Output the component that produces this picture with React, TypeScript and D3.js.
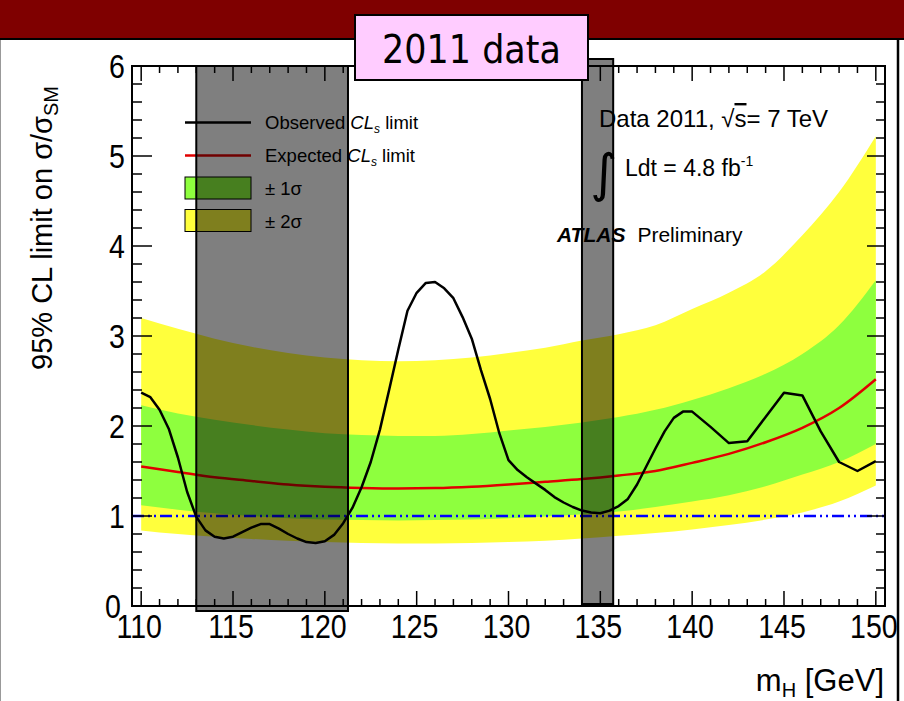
import React from "react";
import * as d3 from "d3";

// ---------- data ----------
const bandMass = [110,112,114,116,118,120,122,124,126,128,130,132,134,136,138,140,142,144,146,148,150];
const expectedLimit = [1.55,1.49,1.43,1.39,1.35,1.325,1.312,1.306,1.31,1.325,1.35,1.38,1.41,1.45,1.50,1.59,1.69,1.82,1.98,2.20,2.52];
const sigma1Hi = [2.23,2.14,2.07,2.01,1.96,1.92,1.90,1.89,1.89,1.91,1.95,1.99,2.04,2.10,2.18,2.29,2.42,2.58,2.80,3.12,3.62];
const sigma1Lo = [1.12,1.07,1.03,1.00,0.975,0.96,0.955,0.95,0.955,0.96,0.975,0.995,1.02,1.05,1.10,1.16,1.23,1.33,1.46,1.60,1.80];
const sigma2Hi = [3.20,3.08,2.97,2.88,2.81,2.76,2.73,2.72,2.73,2.76,2.81,2.87,2.95,3.02,3.12,3.30,3.48,3.72,4.12,4.60,5.22];
const sigma2Lo = [0.84,0.80,0.77,0.745,0.725,0.71,0.70,0.695,0.695,0.70,0.71,0.725,0.75,0.78,0.81,0.85,0.90,0.96,1.04,1.16,1.34];

const obsMass = [110,110.5,111,111.5,112,112.5,113,113.5,114,114.5,115,115.5,116,116.5,117,117.5,118,118.5,119,119.5,120,120.5,121,121.5,122,122.5,123,123.5,124,124.5,125,125.5,126,126.5,127,127.5,128,128.5,129,129.5,130,130.5,131,131.5,132,132.5,133,133.5,134,134.5,135,135.5,136,136.5,137,137.5,138,138.5,139,139.5,140,141,142,143,144,145,146,147,148,149,150];
const observedLimit = [2.37,2.32,2.18,1.97,1.65,1.27,0.99,0.84,0.77,0.75,0.77,0.82,0.87,0.91,0.91,0.86,0.80,0.75,0.71,0.70,0.72,0.79,0.92,1.09,1.32,1.60,1.96,2.40,2.85,3.28,3.48,3.59,3.60,3.53,3.42,3.21,2.97,2.62,2.30,1.92,1.62,1.51,1.43,1.36,1.29,1.21,1.15,1.10,1.06,1.04,1.03,1.06,1.11,1.19,1.35,1.55,1.75,1.94,2.09,2.16,2.16,1.99,1.81,1.83,2.10,2.37,2.34,1.94,1.60,1.50,1.61];

const smLine = 1;
const shadedRanges = [[113.0, 121.26], [134.0, 135.7]];
const xMajorTicks = [110,115,120,125,130,135,140,145,150];
const yMajorTicks = [0,1,2,3,4,5,6];

// ---------- layout ----------
const W = 904, H = 701;
const L = 132, R = 885, T = 66, B = 606;

export default function App() {
  const x = d3.scaleLinear().domain([109.5, 150.5]).range([L, R]);
  const y = d3.scaleLinear().domain([0, 6]).range([B, T]);

  const band = (lo: number[], hi: number[]) =>
    d3.area<number>()
      .x((_, i) => x(bandMass[i]))
      .y0((_, i) => y(lo[i]))
      .y1((_, i) => y(hi[i]))
      .curve(d3.curveMonotoneX)(bandMass) || "";

  const expPath = d3.line<number>()
    .x((_, i) => x(bandMass[i]))
    .y((d) => y(d))
    .curve(d3.curveMonotoneX)(expectedLimit) || "";

  const obsPath = d3.line<number>()
    .x((_, i) => x(obsMass[i]))
    .y((d) => y(d))(observedLimit) || "";

  const xMinor = d3.range(110, 151, 1).filter((v) => v % 5 !== 0);
  const yMinor = d3.range(0, 6.001, 0.2).map((v) => +v.toFixed(1)).filter((v) => Math.abs(v - Math.round(v)) > 1e-6);

  const font = "'Liberation Sans', Arial, Helvetica, sans-serif";
  const tickLabelT = (cx: number, cy: number) => `translate(${cx},${cy}) scale(0.84,1)`;

  return (
    <svg width={W} height={H} style={{ position: "absolute", left: 0, top: 0, background: "#fff" }}
      fontFamily={font}>
      {/* slide decorations */}
      <rect x={0} y={0} width={W} height={39} fill="#7f0000" />
      <line x1={0} x2={W} y1={39} y2={39} stroke="#000" strokeWidth={2} />
      <line x1={0.5} x2={0.5} y1={40} y2={H} stroke="#999" strokeWidth={1} />
      <line x1={898} x2={898} y1={40} y2={H} stroke="#000" strokeWidth={2.5} />

      {/* bands */}
      <path d={band(sigma2Lo, sigma2Hi)} fill="#ffff3c" />
      <path d={band(sigma1Lo, sigma1Hi)} fill="#8eff3e" />
      <path d={expPath} fill="none" stroke="#e00000" strokeWidth={2.5} />
      <line x1={L} x2={R} y1={y(smLine)} y2={y(smLine)} stroke="#0000ff" strokeWidth={2.5}
        strokeDasharray="12,4,2,4,2,4" />
      <path d={obsPath} fill="none" stroke="#000" strokeWidth={2.5} strokeLinejoin="round" />

      {/* frame */}
      <rect x={L} y={T} width={R - L} height={B - T} fill="none" stroke="#000" strokeWidth={2} />
      {xMajorTicks.map((v) => (
        <g key={"xM" + v}>
          <line x1={x(v)} x2={x(v)} y1={B} y2={B - 15} stroke="#000" strokeWidth={1.5} />
          <line x1={x(v)} x2={x(v)} y1={T} y2={T + 15} stroke="#000" strokeWidth={1.5} />
          <text transform={tickLabelT(x(v) - 2, 638)} textAnchor="middle" fontSize={34}>{v}</text>
        </g>
      ))}
      {xMinor.map((v) => (
        <g key={"xm" + v}>
          <line x1={x(v)} x2={x(v)} y1={B} y2={B - 7} stroke="#000" strokeWidth={1.5} />
          <line x1={x(v)} x2={x(v)} y1={T} y2={T + 7} stroke="#000" strokeWidth={1.5} />
        </g>
      ))}
      {yMajorTicks.map((v) => (
        <g key={"yM" + v}>
          <line x1={L} x2={L + 20} y1={y(v)} y2={y(v)} stroke="#000" strokeWidth={1.5} />
          <line x1={R} x2={R - 18} y1={y(v)} y2={y(v)} stroke="#000" strokeWidth={1.5} />
          <text transform={tickLabelT(v === 0 ? 121 : 125, y(v) + 12)} textAnchor="end" fontSize={34}>{v}</text>
        </g>
      ))}
      {yMinor.map((v) => (
        <g key={"ym" + v}>
          <line x1={L} x2={L + 10} y1={y(v)} y2={y(v)} stroke="#000" strokeWidth={1.5} />
          <line x1={R} x2={R - 9} y1={y(v)} y2={y(v)} stroke="#000" strokeWidth={1.5} />
        </g>
      ))}

      {/* axis titles */}
      <text transform="translate(52,86) rotate(-90)" textAnchor="end" fontSize={29}>
        95% CL limit on σ/σ<tspan fontSize={20} dy={6}>SM</tspan>
      </text>
      <text x={884} y={691} textAnchor="end" fontSize={31}>
        m<tspan fontSize={20} dy={6}>H</tspan><tspan dy={-6}> [GeV]</tspan>
      </text>

      {/* legend */}
      <line x1={185} x2={251} y1={122.5} y2={122.5} stroke="#000" strokeWidth={2.5} />
      <line x1={185} x2={251} y1={155.5} y2={155.5} stroke="#e00000" strokeWidth={2.5} />
      <rect x={185} y={177} width={66} height={22} fill="#8eff3e" stroke="#000" strokeWidth={1} />
      <rect x={185} y={209.5} width={66} height={22} fill="#ffff3c" stroke="#000" strokeWidth={1} />
      <g fontSize={18.5}>
        <text x={265} y={129}>Observed <tspan fontStyle="italic">CL</tspan><tspan fontStyle="italic" fontSize={12} dy={4}>s</tspan><tspan dy={-4}> limit</tspan></text>
        <text x={265} y={162}>Expected <tspan fontStyle="italic">CL</tspan><tspan fontStyle="italic" fontSize={12} dy={4}>s</tspan><tspan dy={-4}> limit</tspan></text>
        <text x={265} y={195}>± 1σ</text>
        <text x={265} y={228}>± 2σ</text>
      </g>

      {/* annotation text */}
      <text x={599} y={127} fontSize={24}>Data 2011, √<tspan textDecoration="overline">s</tspan>= 7 TeV</text>
      <text x={590} y={191} fontSize={52} fontFamily="'DejaVu Sans', sans-serif">∫</text>
      <text x={625} y={176} fontSize={23}>Ldt = 4.8 fb<tspan fontSize={14} dy={-10}>-1</tspan></text>
      <text x={557} y={242} fontSize={21}>
        <tspan fontWeight="bold" fontStyle="italic">ATLAS</tspan><tspan dx={12}>Preliminary</tspan>
      </text>

      {/* shaded exclusion boxes drawn over everything */}
      {shadedRanges.map(([a, b], i) => (
        <rect key={"sh" + i} x={x(a)} y={i === 0 ? T : 59} width={x(b) - x(a)}
          height={i === 0 ? 611 - T : 604 - 59}
          fill="rgba(0,0,0,0.5)" stroke="#000" strokeWidth={2} />
      ))}

      {/* title box */}
      <rect x={355} y={15} width={233} height={65} fill="#ffccff" stroke="#000" strokeWidth={2} />
      <text transform="translate(471.5,63) scale(0.92,1.05)" textAnchor="middle" fontSize={38} fontFamily="'DejaVu Sans', sans-serif">2011 data</text>
    </svg>
  );
}
